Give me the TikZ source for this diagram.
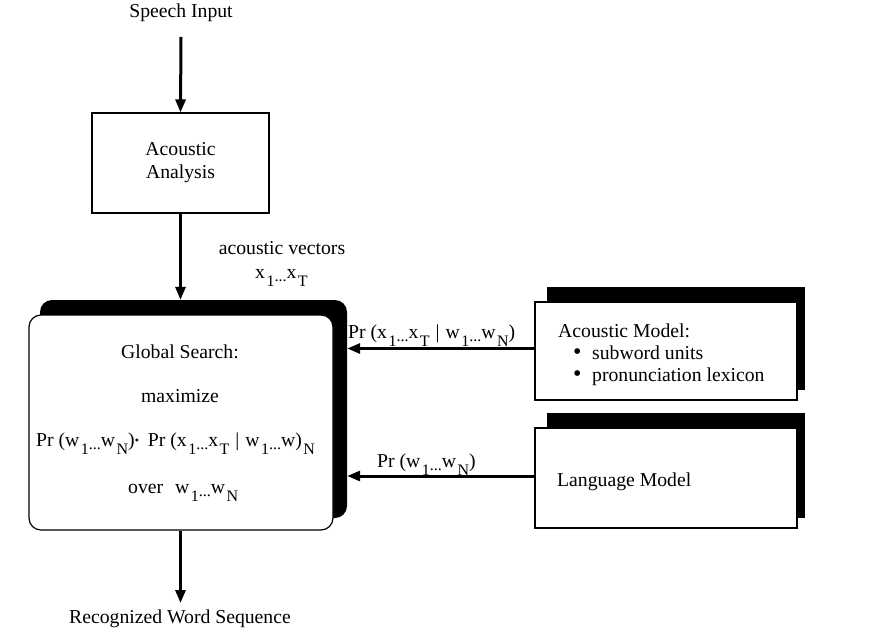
\documentclass[tikz,border=0pt]{standalone}
\usepackage{fontspec}
\setmainfont{Liberation Serif}
\usetikzlibrary{arrows.meta,calc}
\newcommand\sbs[1]{\hspace{1.5pt}\raisebox{-8pt}{\fontsize{16}{16}\selectfont #1}}
\newcommand\dts{\raisebox{-3pt}{\fontsize{16}{16}\selectfont ...}}
\newcommand\mybar{\hspace{6pt}|\hspace{6pt}}
\newcommand\bul{\hspace{15pt}\makebox[19pt][l]{\smash{\fontsize{24}{20}\selectfont •}}}
\begin{document}
\begin{tikzpicture}[x=1pt,y=-1pt,
  every node/.style={font=\fontsize{19.7}{24}\selectfont, inner sep=0pt},
  box/.style={draw, line width=1.2pt, fill=white},
  shade/.style={fill=black, draw=none},
  arr/.style={line width=3pt, -{Triangle[length=13pt,width=10pt]}},
  lbl/.style={anchor=base west}]
\useasboundingbox (0,0) rectangle (884,629);
% top
\node (si) at (181,13) {Speech Input};
\node[box, minimum width=177pt, minimum height=100pt, align=center] (aa) at (180.5,163) {Acoustic\\[-1pt]Analysis};
\node (av) at (282,248) {acoustic vectors};
\node[lbl] (xv) at (255,278) {x\sbs{1}\dts x\sbs{T}};
% global search
\node[shade, rounded corners=12pt, minimum width=307pt, minimum height=218pt] (gss) at (193.5,409) {};
\node[box, rounded corners=12pt, minimum width=304pt, minimum height=215pt] (gs) at (181,422.5) {};
\node[anchor=base] (t1) at (180,358) {Global Search:};
\node[anchor=base] (t2) at (180,402) {maximize};
\node[lbl] (t3) at (36,446) {Pr (w\sbs{1}\dts w\sbs{N})\raisebox{2pt}{\fontsize{12}{12}\selectfont •}\hspace{9pt}Pr (x\sbs{1}\dts x\sbs{T}\mybar w\sbs{1}\dts w)\sbs{N}};
\node[lbl] (t4) at (128,493) {over\hspace{12pt}w\sbs{1}\dts w\sbs{N}};
% acoustic model
\node[shade, minimum width=258pt, minimum height=103pt] (ams) at (676,338.5) {};
\node[box, minimum width=262pt, minimum height=98pt] (am) at (666,351) {};
\node[lbl, align=left, font=\fontsize{19.7}{22}\selectfont] (am1) at (558,381) {Acoustic Model:\\\bul subword units\\\bul pronunciation lexicon};
% language model
\node[shade, minimum width=258pt, minimum height=105pt] (lms) at (676,465.5) {};
\node[box, minimum width=262pt, minimum height=100pt] (lm) at (666,478) {};
\node[lbl] (lm1) at (557,486) {Language Model};
% bottom
\node (rw) at (180,619) {Recognized Word Sequence};
% arrow labels
\node[lbl] (p1) at (348,338) {Pr (x\sbs{1}\dts x\sbs{T}\mybar w\sbs{1}\dts w\sbs{N})};
\node[lbl] (p2) at (377,467) {Pr (w\sbs{1}\dts w\sbs{N})};
% arrows
\draw[arr] (si.south |- 0,37) -- (aa.north);
\draw[arr] (aa.south) -- (aa.south |- gss.north);
\draw[arr] ([yshift=2.5pt]am.west) -- ([yshift=2.5pt]am.west -| gss.east);
\draw[arr] ([yshift=2pt]lm.west) -- ([yshift=2pt]lm.west -| gss.east);
\draw[arr] (gs.south -| aa.south) -- (aa.south |- 0,603);
\end{tikzpicture}
\end{document}
